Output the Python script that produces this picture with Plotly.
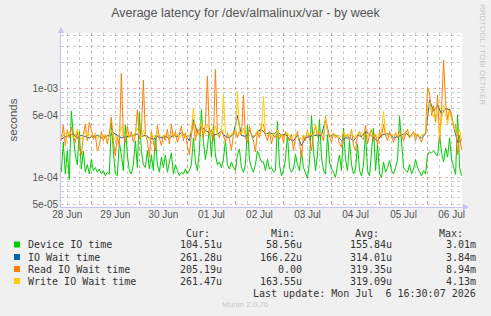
import plotly.graph_objects as go
import pandas as pd

# ---------------- data (microseconds) ----------------
times = pd.date_range("2026-06-28 09:00", periods=201, freq="h")
times_wait = pd.date_range("2026-06-28 09:00", periods=101, freq="2h")

device_us = [
    115, 250, 110, 200, 95, 560, 300, 180, 140, 330, 125, 200, 115, 140, 110, 160, 120, 130, 115, 125,
    110, 120, 105, 115, 110, 410, 200, 110, 105, 250, 180, 120, 394, 180, 120, 110, 140, 260, 130, 540,
    200, 140, 130, 200, 125, 180, 120, 300, 140, 115, 170,
    130, 180, 115, 150, 190, 110, 140, 120, 105, 115, 110, 125, 110, 120, 140, 280, 150, 120, 200, 580,
    250, 160, 220, 360, 170, 390, 180, 140, 150, 130, 160, 260, 140, 125, 150, 130, 120, 180, 210, 130,
    115, 140, 390, 160, 130, 115, 140, 200, 170, 150,
    150, 120, 160, 125, 130, 115, 120, 430, 140, 105, 120, 160, 305, 130, 115, 125, 182, 140, 120, 200,
    130, 110, 98, 150, 500, 200, 120, 180, 450, 170, 120, 110, 305, 150, 125, 115, 100, 140, 180, 120,
    362, 160, 120, 257, 140, 110, 125, 236, 120, 105,
    140, 330, 120, 105, 200, 360, 120, 236, 110, 100, 150, 115, 130, 155, 120, 110, 130, 160, 490, 280,
    130, 120, 115, 140, 110, 125, 160, 130, 115, 105, 120, 110, 180, 195, 190, 200, 185, 175, 305, 190,
    150, 216, 170, 280, 160, 129, 109, 510, 130, 105,
]

io_wait_us = [
    270, 290, 300, 310, 280, 300, 290, 280, 290, 300, 280, 290, 300, 320, 300, 280, 290, 290, 300, 310,
    290, 300, 280, 270, 290, 280,
    290, 280, 300, 290, 320, 300, 260, 450, 320, 380, 340, 320, 300, 310, 330, 290, 280, 310, 500, 300,
    290, 340, 280, 330, 350,
    310, 320, 310, 330, 300, 310, 270, 260, 300, 230, 280, 290, 300, 300, 300, 450, 290, 310, 290, 260,
    280, 280, 260, 300, 290,
    330, 310, 280, 260, 300, 310, 310, 280, 290, 300, 320, 290, 320, 300, 280, 310, 750, 560, 650, 520,
    600, 580, 380, 250, 261,
]

read_us = [
    260, 390, 230, 340, 280, 370, 300, 250, 330, 220, 180, 300, 400, 260, 420, 350, 270, 300, 200, 230,
    330, 260, 300, 240, 310, 480, 260, 175, 290, 230, 1490, 300, 250, 380, 280, 330, 250, 300, 580, 270,
    320, 1250, 300, 260, 170, 330, 250, 200, 390, 280, 230,
    300, 260, 350, 240, 400, 280, 330, 250, 300, 380, 260, 320, 230, 180, 300, 420, 260, 350, 300, 380,
    280, 400, 1400, 300, 350, 260, 1660, 320, 280, 350, 300, 250, 320, 270, 205, 300, 350, 280, 330, 300,
    850, 280, 250, 380, 300, 260, 195, 330, 280, 400,
    400, 300, 260, 330, 240, 300, 280, 350, 270, 310, 250, 330, 290, 260, 310, 200, 280, 330, 250, 167,
    300, 260, 340, 280, 200, 310, 380, 290, 330, 300, 260, 490, 330, 290, 250, 320, 280, 300, 240, 220,
    330, 280, 310, 260, 350, 230, 200, 300, 330, 280,
    270, 390, 240, 300, 350, 260, 310, 235, 330, 280, 400, 300, 260, 330, 290, 250, 320, 280, 340, 300,
    260, 310, 350, 280, 300, 330, 260, 310, 280, 250, 300, 320, 1030, 900, 500, 650, 420, 850, 257, 600,
    2100, 700, 450, 600, 500, 380, 400, 182, 300, 205,
]

write_us = [
    280, 300, 320, 290, 330, 310, 280, 300, 350, 290, 270, 300, 330, 290, 310, 280, 300, 320, 270, 290,
    300, 280, 310, 270, 290, 340, 300, 260, 290, 310, 380, 300, 290, 320, 280, 300, 290, 330, 360, 300,
    280, 340, 300, 280, 270, 310, 290, 280, 320, 300, 290,
    290, 310, 300, 280, 320, 300, 290, 310, 280, 300, 320, 290, 280, 300, 330, 600, 320, 300, 350, 420,
    330, 310, 400, 330, 300, 320, 380, 310, 300, 330, 860, 320, 300, 290, 310, 330, 300, 930, 340, 310,
    360, 300, 320, 330, 310, 290, 300, 340, 310, 330,
    820, 330, 300, 310, 290, 320, 300, 340, 290, 310, 280, 300, 320, 290, 280, 300, 310, 290, 280, 270,
    300, 290, 330, 300, 310, 290, 400, 320, 330, 300, 310, 470, 340, 300, 290, 310, 300, 290, 280, 300,
    320, 290, 310, 300, 330, 290, 280, 310, 300, 320,
    290, 310, 300, 320, 290, 300, 310, 280, 300, 330, 556, 320, 300, 290, 310, 300, 320, 290, 310, 300,
    290, 330, 310, 300, 290, 320, 300, 310, 290, 300, 310, 320, 600, 700, 550, 480, 620, 500, 300, 450,
    650, 520, 400, 560, 450, 380, 330, 300, 350, 261,
]

series_names = ["Device IO time", "IO Wait time", "Read IO Wait time", "Write IO Wait time"]
series_colors = ["#00CC00", "#0066B3", "#FF8000", "#FFCC00"]
cur_vals = ["104.51u", "261.28u", "205.19u", "261.47u"]
min_vals = ["58.56u", "166.22u", "0.00", "163.55u"]
avg_vals = ["155.84u", "314.01u", "319.35u", "319.09u"]
max_vals = ["3.01m", "3.84m", "8.94m", "4.13m"]

y_tick_vals = [5e-5, 1e-4, 5e-4, 1e-3]
y_tick_text = ["5e-05", "1e-04", "5e-04", "1e-03"]
y_minor_vals = [6e-5, 7e-5, 8e-5, 9e-5, 2e-4, 3e-4, 4e-4, 6e-4, 7e-4, 8e-4, 9e-4, 2e-3, 3e-3, 4e-3]

day_labels = ["28 Jun", "29 Jun", "30 Jun", "01 Jul", "02 Jul", "03 Jul", "04 Jul", "05 Jul", "06 Jul"]
label_times = pd.date_range("2026-06-28 12:00", periods=9, freq="D")
midnights = pd.date_range("2026-06-29 00:00", periods=8, freq="D")
six_hours = pd.date_range("2026-06-28 12:00", "2026-07-06 12:00", freq="6h")
x_range = ["2026-06-28 08:51", "2026-07-06 17:12"]

# ---------------- geometry ----------------
W, H = 491, 316
L, R, T, B = 61, 29, 33, 109
PW, PH = W - L - R, H - T - B


def xp(px):
    return (px - L) / PW


def yp(py):
    return (H - B - py) / PH


AXIS_COL = "#C4C4F4"
TXT = "#555555"
SANS = "Liberation Sans"
MONO = "DejaVu Sans Mono"

fig = go.Figure()
xs = [times, times_wait, times, times]
ys = [device_us, io_wait_us, read_us, write_us]
for name, col, x, y in zip(series_names, series_colors, xs, ys):
    fig.add_trace(go.Scatter(
        x=x, y=[v * 1e-6 for v in y], name=name, mode="lines",
        line=dict(color=col, width=1), showlegend=False, hoverinfo="skip",
    ))

# overlay axis carrying the day labels at noon
fig.add_trace(go.Scatter(x=[], y=[], xaxis="x2", showlegend=False))

fig.update_layout(
    width=W, height=H,
    margin=dict(l=L, r=R, t=T, b=B),
    paper_bgcolor="#F0F0F0", plot_bgcolor="#FFFFFF",
    font=dict(family=SANS, color=TXT, size=10),
    title=dict(text="Average latency for /dev/almalinux/var - by week",
               x=0.5, xanchor="center", y=1 - 12.5 / H, yanchor="middle",
               font=dict(size=12.5, color=TXT, family=SANS)),
    xaxis=dict(
        type="date", range=x_range, tickmode="array", tickvals=list(midnights),
        showticklabels=False, ticks="", showgrid=True,
        gridcolor="rgba(230,120,120,0.55)", griddash="dot", gridwidth=1,
        minor=dict(tickmode="array", tickvals=list(six_hours), showgrid=True,
                   gridcolor="rgba(170,170,170,0.6)", griddash="dot", gridwidth=1, ticks=""),
        showline=True, linecolor=AXIS_COL, linewidth=1, zeroline=False, fixedrange=True,
    ),
    xaxis2=dict(
        type="date", overlaying="x", anchor="y", side="bottom", range=x_range,
        tickmode="array", tickvals=list(label_times), ticktext=day_labels,
        showgrid=False, ticks="", showline=False, zeroline=False,
        tickfont=dict(size=10, color=TXT, family=SANS),
    ),
    yaxis=dict(
        type="log", range=[-4.331, -2.371], tickmode="array",
        tickvals=y_tick_vals, ticktext=y_tick_text, ticks="",
        showgrid=True, gridcolor="rgba(230,120,120,0.55)", griddash="dot", gridwidth=1,
        minor=dict(tickmode="array", tickvals=y_minor_vals, showgrid=True,
                   gridcolor="rgba(170,170,170,0.6)", griddash="dot", gridwidth=1, ticks=""),
        showline=True, linecolor=AXIS_COL, linewidth=1, zeroline=False,
        tickfont=dict(size=10, color=TXT, family=SANS),
        title=dict(text="seconds", font=dict(size=11.5, color=TXT, family=SANS), standoff=12),
    ),
)

ann = []
shapes = []
# axis arrows
ann.append(dict(xref="paper", yref="paper", x=0, y=yp(T - 6), ax=0, ay=7, axref="pixel", ayref="pixel",
                showarrow=True, arrowhead=2, arrowsize=1, arrowwidth=1.2, arrowcolor=AXIS_COL, text=""))
ann.append(dict(xref="paper", yref="paper", x=xp(L + PW + 7), y=0, ax=-8, ay=0,
                showarrow=True, arrowhead=2, arrowsize=1, arrowwidth=1.2, arrowcolor=AXIS_COL, text=""))

# right watermark
ann.append(dict(xref="paper", yref="paper", x=xp(483), y=yp(54), text="RRDTOOL / TOBI OETIKER",
                textangle=90, showarrow=False, font=dict(size=8, color="#C8C8C8", family=SANS),
                xanchor="center", yanchor="middle"))

# legend header
for txt, right in zip(["Cur:", "Min:", "Avg:", "Max:"], [212, 297, 381, 465]):
    ann.append(dict(xref="paper", yref="paper", x=xp(right), y=yp(233), text=txt, showarrow=False,
                    xanchor="right", yanchor="middle", font=dict(family=MONO, size=10, color="#333333")))

rows_y = [244.5, 257, 269, 281]
for i, ry in enumerate(rows_y):
    shapes.append(dict(type="rect", xref="paper", yref="paper",
                       x0=xp(14), x1=xp(20), y0=yp(ry + 3), y1=yp(ry - 3),
                       fillcolor=series_colors[i], line=dict(width=0)))
    ann.append(dict(xref="paper", yref="paper", x=xp(25.5), y=yp(ry), text=series_names[i], showarrow=False,
                    xanchor="left", yanchor="middle", font=dict(family=MONO, size=10, color="#333333")))
    for vals, right in zip([cur_vals, min_vals, avg_vals, max_vals], [224, 303.5, 393.5, 477.5]):
        ann.append(dict(xref="paper", yref="paper", x=xp(right), y=yp(ry), text=vals[i], showarrow=False,
                        xanchor="right", yanchor="middle", font=dict(family=MONO, size=10, color="#333333")))

ann.append(dict(xref="paper", yref="paper", x=xp(477.5), y=yp(293),
                text="Last update: Mon Jul  6 16:30:07 2026".replace("  ", "&nbsp; "), showarrow=False,
                xanchor="right", yanchor="middle", font=dict(family=MONO, size=10, color="#333333")))
ann.append(dict(xref="paper", yref="paper", x=xp(245), y=yp(304.5), text="Munin 2.0.76", showarrow=False,
                xanchor="center", yanchor="middle", font=dict(size=8, color="#C8C8C8", family=SANS)))

fig.update_layout(annotations=ann, shapes=shapes)
fig.write_html("out.html")
